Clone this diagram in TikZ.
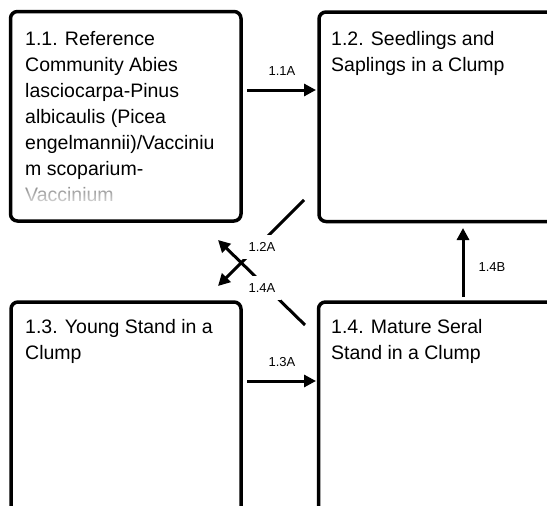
\documentclass[tikz,border=0pt]{standalone}
\usepackage{fontspec}
\setmainfont{Liberation Sans}
\usetikzlibrary{arrows.meta,fadings}
\begin{document}
\begin{tikzpicture}[x=1pt,y=-1pt,
  box/.style={draw, line width=3.5pt, rounded corners=7pt, inner sep=0pt},
  txt/.style={anchor=north west, inner sep=0pt, align=left, font=\fontsize{19.5}{26}\selectfont},
  lbl/.style={inner sep=0pt, font=\fontsize{13}{15}\selectfont},
  lblw/.style={fill=white, inner xsep=6pt, inner ysep=7.5pt, font=\fontsize{13}{15}\selectfont},
  arr/.style={line width=3pt, -{Triangle[length=12pt,width=12pt]}},
  ln/.style={line width=3pt}]
\useasboundingbox (0,0) rectangle (547,506);
\clip (0,0) rectangle (547,506);
% boxes
\node[box, minimum width=230.5pt, minimum height=209.5pt] (b11) at (125.75,116.25) {};
\node[box, minimum width=271pt, minimum height=209.5pt] (b12) at (454.5,116.75) {};
\node[box, minimum width=230pt, minimum height=278pt] (b13) at (126,441) {};
\node[box, minimum width=271.5pt, minimum height=278pt] (b14) at (454.25,441) {};
% texts
\node[txt] (t11) at (25,30.8) {1.1. Reference\\Community Abies\\lasciocarpa-Pinus\\albicaulis (Picea\\engelmannii)/Vacciniu\\m scoparium-\\\textcolor{black!55}{Vaccinium}};
\fill[white, opacity=0.8, path fading=north] (20,180) rectangle (236,206);
\node[txt] (t12) at (331,30.8) {1.2. Seedlings and\\Saplings in a Clump};
\node[txt] (t13) at (25,318.8) {1.3. Young Stand in a\\Clump};
\node[txt] (t14) at (331,318.8) {1.4. Mature Seral\\Stand in a Clump};
% connector end points
\coordinate (a11s) at (247,90);  \coordinate (a11e) at (316,90);
\coordinate (a13s) at (247,381); \coordinate (a13e) at (316,381);
\coordinate (a14bs) at (463,297); \coordinate (a14be) at (463,228);
\coordinate (a12s) at (304,200); \coordinate (a12e) at (218,286);
\coordinate (a14s) at (305,325); \coordinate (a14e) at (218,240);
% connectors
\draw[arr] (a11s) -- (a11e);
\draw[arr] (a13s) -- (a13e);
\draw[arr] (a14bs) -- (a14be);
\draw[arr] (a12s) -- (a12e);
\draw[arr] (a14s) -- (a14e);
% labels
\node[lbl] (l11) at (282,71) {1.1A};
\node[lbl] (l13) at (282,362) {1.3A};
\node[lbl] (l14b) at (492,267) {1.4B};
\node[lblw] (l12) at (262,247) {1.2A};
\node[lblw] (l14) at (262,288) {1.4A};
\end{tikzpicture}
\end{document}
